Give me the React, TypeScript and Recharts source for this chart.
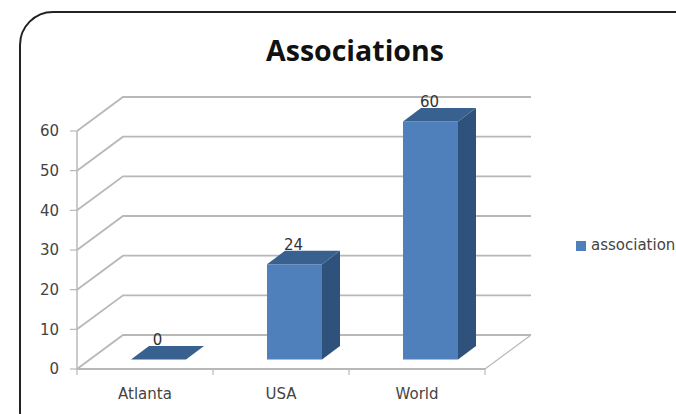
import React from "react";
import {
  BarChart,
  Bar,
  XAxis,
  YAxis,
  CartesianGrid,
  Legend,
  LabelList,
} from "recharts";

const categories = ["Atlanta", "USA", "World"];
const associations = [0, 24, 60];
const yTicks = [0, 10, 20, 30, 40, 50, 60];

const chartData = categories.map((name, i) => ({
  name,
  association: associations[i],
}));

const WIDTH = 676;
const HEIGHT = 414;
const FONT = "'DejaVu Sans', sans-serif";
const GRID = "#b8b8b8";
const TEXT_SIZE = 15;

// fake 3D: how far the back wall sits from the front of the plot
const DEPTH_X = 46;
const DEPTH_Y = 34;
const PLOT_LEFT = 77;
const PLOT_RIGHT = 485;
const BAND = (PLOT_RIGHT - PLOT_LEFT) / categories.length;

const GridLine = (props: any) => {
  const { x1, x2, y1, index } = props;
  return (
    <g key={index}>
      <polyline
        points={`${x1},${y1} ${x1 + DEPTH_X},${y1 - DEPTH_Y} ${x2 + DEPTH_X},${y1 - DEPTH_Y}`}
        fill="none"
        stroke={GRID}
        strokeWidth={1.8}
      />
      {index === 0 && (
        <line
          x1={x2}
          y1={y1}
          x2={x2 + DEPTH_X}
          y2={y1 - DEPTH_Y}
          stroke={GRID}
          strokeWidth={1.2}
        />
      )}
    </g>
  );
};

const Bar3D = (props: any) => {
  const { x, y, width, height } = props;
  const fx = x + 13;
  const fy = y - 9.5;
  const dx = 18;
  const dy = 13.5;
  const top = `${fx},${fy} ${fx + dx},${fy - dy} ${fx + width + dx},${fy - dy} ${fx + width},${fy}`;
  const side = `${fx + width},${fy} ${fx + width + dx},${fy - dy} ${fx + width + dx},${fy + height - dy} ${fx + width},${fy + height}`;
  return (
    <g>
      {height > 0 && <rect x={fx} y={fy} width={width} height={height} fill="#4f80bc" />}
      {height > 0 && <polygon points={side} fill="#2f527c" />}
      <polygon points={top} fill="#38618f" />
    </g>
  );
};

const XTick = (props: any) => {
  const { x, y, payload, index } = props;
  const left = x - BAND / 2;
  return (
    <g>
      <line x1={left} y1={y - 8} x2={left} y2={y - 2} stroke={GRID} strokeWidth={1.2} />
      {index === categories.length - 1 && (
        <line x1={x + BAND / 2} y1={y - 8} x2={x + BAND / 2} y2={y - 2} stroke={GRID} strokeWidth={1.2} />
      )}
      <text x={x} y={y + 22} textAnchor="middle" fontSize={TEXT_SIZE} fontFamily={FONT} fill="#444">
        {payload.value}
      </text>
    </g>
  );
};

export default function App() {
  return (
    <div
      style={{
        position: "absolute",
        left: 0,
        top: 0,
        width: WIDTH,
        height: HEIGHT,
        overflow: "hidden",
        background: "#fff",
      }}
    >
      <div
        style={{
          position: "absolute",
          left: 19,
          top: 10.5,
          width: 685,
          height: 430,
          border: "2px solid #222",
          borderRadius: 34,
        }}
      />
      <div
        style={{
          position: "absolute",
          left: 0,
          top: 31,
          width: 710,
          textAlign: "center",
          fontFamily: "'Open Sans', sans-serif",
          fontWeight: 700,
          fontSize: 28.5,
          color: "#111",
        }}
      >
        Associations
      </div>
      <BarChart
        width={WIDTH}
        height={HEIGHT}
        data={chartData}
        margin={{ top: 131, left: 37, right: 61, bottom: 15 }}
        style={{ position: "absolute", left: 0, top: 0 }}
      >
        <CartesianGrid vertical={false} horizontal={(p: any) => <GridLine {...p} />} />
        <XAxis
          dataKey="name"
          height={30}
          interval={0}
          axisLine={{ stroke: GRID, strokeWidth: 1.8 }}
          tickLine={false}
          tick={(p: any) => <XTick {...p} />}
        />
        <YAxis
          width={40}
          domain={[0, 60]}
          ticks={yTicks}
          interval={0}
          tickSize={7}
          tickMargin={11}
          axisLine={{ stroke: GRID, strokeWidth: 1.5 }}
          tickLine={{ stroke: GRID, strokeWidth: 1.2 }}
          tick={{ fontSize: TEXT_SIZE, fontFamily: FONT, fill: "#444" }}
        />
        <Legend
          layout="vertical"
          align="right"
          verticalAlign="middle"
          width={130}
          iconType="square"
          iconSize={10}
          wrapperStyle={{ left: 576, right: "auto", top: 236, whiteSpace: "nowrap", padding: 0 }}
          formatter={(v: string) => (
            <span style={{ color: "#444", fontFamily: FONT, fontSize: 15, marginLeft: 1 }}>{v}</span>
          )}
        />
        <Bar
          dataKey="association"
          name="association"
          fill="#4f80bc"
          barSize={55}
          isAnimationActive={false}
          shape={(p: any) => <Bar3D {...p} />}
        >
          <LabelList
            dataKey="association"
            position="top"
            offset={24}
            dx={12}
            fontSize={TEXT_SIZE}
            fontFamily={FONT}
            fill="#333"
          />
        </Bar>
      </BarChart>
    </div>
  );
}
